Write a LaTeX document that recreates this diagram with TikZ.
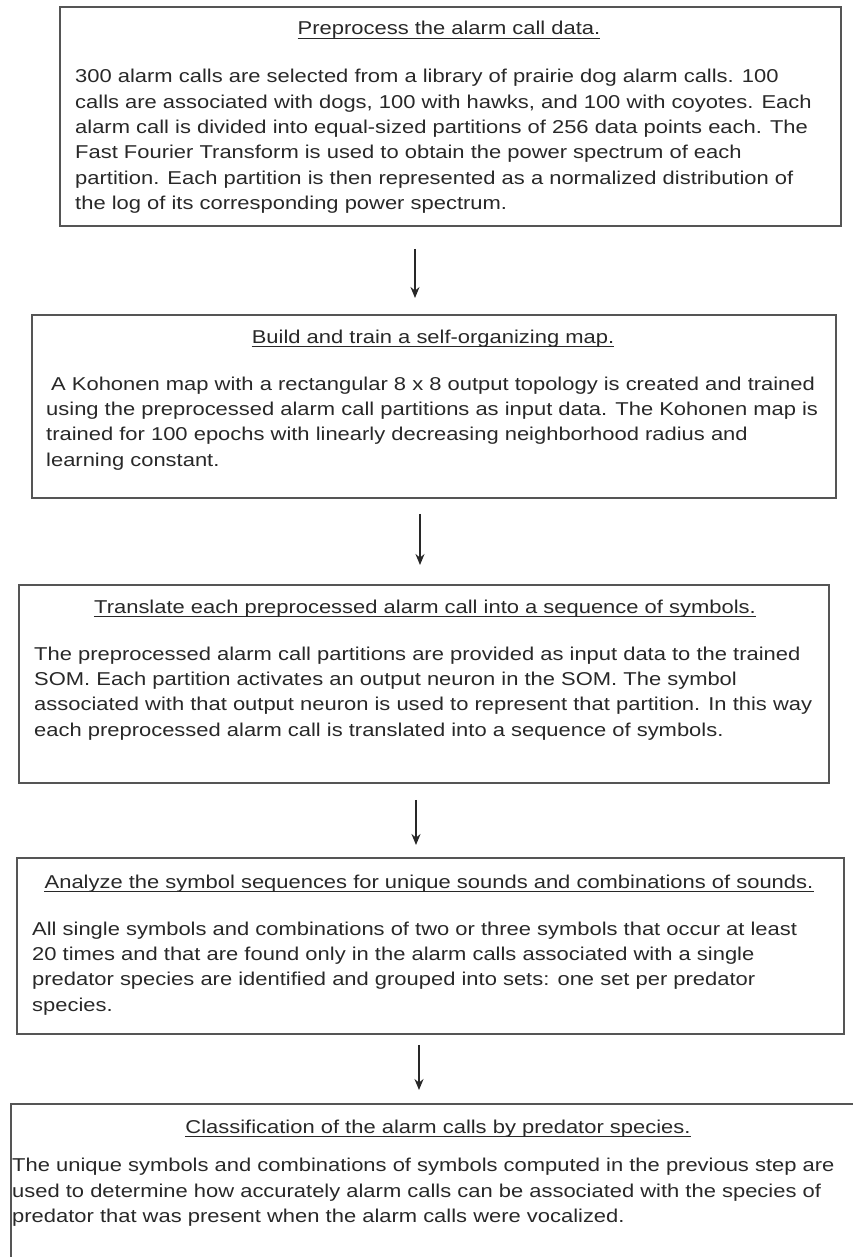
\documentclass[tikz,border=0pt]{standalone}
\usepackage{fontspec}
\setmainfont{Liberation Sans}[FakeStretch=1.18]
\usetikzlibrary{arrows.meta}

\definecolor{InkColor}{RGB}{40,40,40}
\definecolor{FrameColor}{RGB}{85,85,85}

\tikzset{
	stepbox/.style={draw=FrameColor, line width=1.8pt, inner sep=0pt, anchor=north west},
	heading/.style={anchor=base, inner sep=0pt, text=InkColor},
	bodytext/.style={anchor=base west, inner sep=0pt, align=left, text=InkColor},
	uline/.style={InkColor, line width=1.3pt},
	flow/.style={InkColor, line width=1.6pt, -{Stealth[length=11pt, width=9pt]}}
}

\begin{document}
\begin{tikzpicture}[x=1pt, y=-1pt, font=\fontsize{18.6}{25.3}\selectfont]

	\useasboundingbox (0,0) rectangle (852,1257);

	% Boxes

	\node [stepbox, minimum width=781pt, minimum height=219pt] (b1) at (59,6) {};
	\node [stepbox, minimum width=804pt, minimum height=183pt] (b2) at (31,314) {};
	\node [stepbox, minimum width=810pt, minimum height=198pt] (b3) at (18,584) {};
	\node [stepbox, minimum width=827pt, minimum height=176pt] (b4) at (16,857) {};
	\node [stepbox, minimum width=850pt, minimum height=170pt] (b5) at (10,1103) {};

	% Titles

	\node [heading] (t1) at (449,35) {Preprocess the alarm call data.};
	\node [heading] (t2) at (433,343) {Build and train a self-organizing map.};
	\node [heading] (t3) at (425,613) {Translate each preprocessed alarm call into a sequence of symbols.};
	\node [heading] (t4) at (429,888) {Analyze the symbol sequences for unique sounds and combinations of sounds.};
	\node [heading] (t5) at (438,1133) {Classification of the alarm calls by predator species.};

	\foreach \t in {t1,t2,t3,t4,t5}
		\draw [uline] ([yshift=-3.5pt]\t.base west) -- ([yshift=-3.5pt]\t.base east);

	% Texts (placed at the baseline of their last line)

	\node [bodytext] (p1) at (75,209.5) {300 alarm calls are selected from a library of prairie dog alarm calls. 100\\
		calls are associated with dogs, 100 with hawks, and 100 with coyotes. Each\\
		alarm call is divided into equal-sized partitions of 256 data points each. The\\
		Fast Fourier Transform is used to obtain the power spectrum of each\\
		partition. Each partition is then represented as a normalized distribution of\\
		the log of its corresponding power spectrum.};
	\node [bodytext] (p2) at (46,466) {\hspace*{5pt}A Kohonen map with a rectangular 8 x 8 output topology is created and trained\\
		using the preprocessed alarm call partitions as input data. The Kohonen map is\\
		trained for 100 epochs with linearly decreasing neighborhood radius and\\
		learning constant.};
	\node [bodytext] (p3) at (34,736) {The preprocessed alarm call partitions are provided as input data to the trained\\
		SOM. Each partition activates an output neuron in the SOM. The symbol\\
		associated with that output neuron is used to represent that partition. In this way\\
		each preprocessed alarm call is translated into a sequence of symbols.};
	\node [bodytext] (p4) at (32,1011) {All single symbols and combinations of two or three symbols that occur at least\\
		20 times and that are found only in the alarm calls associated with a single\\
		predator species are identified and grouped into sets: one set per predator\\
		species.};
	\node [bodytext] (p5) at (12,1222.5) {The unique symbols and combinations of symbols computed in the previous step are\\
		used to determine how accurately alarm calls can be associated with the species of\\
		predator that was present when the alarm calls were vocalized.};

	% Arrows

	\coordinate (a1) at (415,0);
	\coordinate (a2) at (420,0);
	\coordinate (a3) at (416,0);
	\coordinate (a4) at (419,0);

	\draw [flow, shorten <=22pt, shorten >=16pt] (b1.south -| a1) -- (b2.north -| a1);
	\draw [flow, shorten <=15pt, shorten >=19pt] (b2.south -| a2) -- (b3.north -| a2);
	\draw [flow, shorten <=16pt, shorten >=12pt] (b3.south -| a3) -- (b4.north -| a3);
	\draw [flow, shorten <=10pt, shorten >=13pt] (b4.south -| a4) -- (b5.north -| a4);

\end{tikzpicture}
\end{document}
